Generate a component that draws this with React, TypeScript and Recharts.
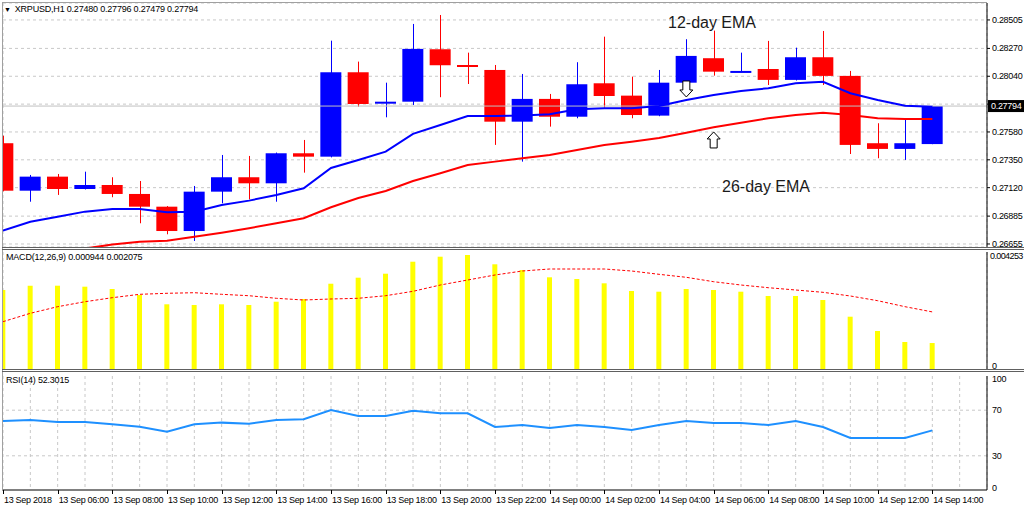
import {
  ComposedChart,
  Bar,
  Line,
  XAxis,
  YAxis,
  CartesianGrid,
  ReferenceLine,
  ReferenceDot,
} from 'recharts';

const FONT = "'Liberation Sans', Arial, sans-serif";

// hourly XRPUSD candles, 13 Sep 04:00 .. 14 Sep 14:00
const OPEN = [
  0.27487, 0.27095, 0.27211, 0.27109, 0.27142, 0.27068, 0.26963, 0.26762, 0.27087, 0.27206,
  0.27156, 0.27404, 0.27376, 0.28073, 0.27814, 0.2783, 0.28263, 0.28133, 0.28092, 0.27665,
  0.27853, 0.27706, 0.27982, 0.2788, 0.27715, 0.27987, 0.28189, 0.28076, 0.281, 0.2801,
  0.28197, 0.28043, 0.27487, 0.2744, 0.2748,
];
const HIGH = [
  0.27549, 0.27225, 0.27233, 0.27252, 0.27206, 0.27175, 0.26968, 0.27134, 0.2739, 0.27382,
  0.2741, 0.27514, 0.28334, 0.28161, 0.27987, 0.28472, 0.28546, 0.28235, 0.28133, 0.28059,
  0.27894, 0.28156, 0.28367, 0.28037, 0.28092, 0.28346, 0.28417, 0.28235, 0.28332, 0.28276,
  0.28414, 0.28084, 0.27652, 0.27685, 0.27796,
];
const LOW = [
  0.2709, 0.27004, 0.2706, 0.27105, 0.27041, 0.26826, 0.26735, 0.2668, 0.26991, 0.27024,
  0.27004, 0.27244, 0.2737, 0.27789, 0.27701, 0.27803, 0.27867, 0.27976, 0.27473, 0.27335,
  0.27624, 0.27693, 0.27781, 0.27693, 0.2771, 0.2798, 0.28045, 0.28074, 0.27968, 0.28005,
  0.27968, 0.27398, 0.27363, 0.27349, 0.27479,
];
const CLOSE = [
  0.27095, 0.27211, 0.27109, 0.27142, 0.27068, 0.26963, 0.26762, 0.27087, 0.27206, 0.27156,
  0.27404, 0.27376, 0.28073, 0.27811, 0.2783, 0.28266, 0.28131, 0.28125, 0.27665, 0.27853,
  0.27706, 0.27974, 0.27877, 0.2772, 0.27987, 0.28208, 0.28078, 0.28084, 0.2801, 0.28197,
  0.28043, 0.27473, 0.2744, 0.27487, 0.27794,
];
const EMA12 = [
  0.26765, 0.26839, 0.2688, 0.26922, 0.26944, 0.26944, 0.26917, 0.26922, 0.26977, 0.27013,
  0.2706, 0.27115, 0.27283, 0.27349, 0.27417, 0.27564, 0.27638, 0.27712, 0.27712, 0.27715,
  0.27726, 0.27768, 0.27776, 0.27776, 0.27795, 0.27844, 0.27886, 0.27919, 0.27941, 0.27982,
  0.27995, 0.279, 0.27844, 0.27797, 0.27789,
];
const EMA26 = [
  0.26545, 0.26570, 0.26594, 0.26618, 0.26650, 0.26674, 0.26682, 0.26715, 0.26748, 0.26785,
  0.26826, 0.26867, 0.26958, 0.27035, 0.27093, 0.27175, 0.27239, 0.27307, 0.27335, 0.27363,
  0.2739, 0.27431, 0.27473, 0.275, 0.2753, 0.27574, 0.27619, 0.27657, 0.27693, 0.2772,
  0.27739, 0.2772, 0.27693, 0.27687, 0.27687,
];
const MACD = [
  0.002872, 0.003028, 0.003028, 0.002992, 0.002908, 0.00269, 0.002352, 0.002326, 0.002352, 0.002326,
  0.002446, 0.002545, 0.0031, 0.003319, 0.003464, 0.0039, 0.004082, 0.004144, 0.003806, 0.003599,
  0.003333, 0.003272, 0.003115, 0.002835, 0.00281, 0.002908, 0.002872, 0.00281, 0.002654, 0.002654,
  0.002508, 0.001901, 0.001381, 0.000981, 0.000944,
];
const SIGNAL = [
  0.00172, 0.002025, 0.002265, 0.002446, 0.002592, 0.002715, 0.002752, 0.002773, 0.002715, 0.002664,
  0.00257, 0.002508, 0.002545, 0.00257, 0.002664, 0.002824, 0.003053, 0.003235, 0.003417, 0.003562,
  0.003635, 0.003635, 0.003635, 0.003562, 0.003442, 0.003333, 0.003173, 0.003053, 0.002955, 0.002872,
  0.002788, 0.002654, 0.002483, 0.002265, 0.002075,
];
const RSI = [
  60.5, 61.4, 59.6, 59.6, 57.6, 55.5, 51.2, 57.6, 59.1, 58.2,
  61.4, 62.0, 70.2, 64.9, 64.9, 69.6, 67.3, 67.3, 55.3, 57.0,
  54.4, 57.0, 55.3, 52.6, 57.0, 60.5, 58.8, 58.8, 57.0, 60.5,
  55.3, 45.6, 45.6, 45.6, 52.3,
];

// one label every second bar
const X_LABELS = [
  '13 Sep 2018', '13 Sep 06:00', '13 Sep 08:00', '13 Sep 10:00', '13 Sep 12:00', '13 Sep 14:00',
  '13 Sep 16:00', '13 Sep 18:00', '13 Sep 20:00', '13 Sep 22:00', '14 Sep 00:00', '14 Sep 02:00',
  '14 Sep 04:00', '14 Sep 06:00', '14 Sep 08:00', '14 Sep 10:00', '14 Sep 12:00', '14 Sep 14:00',
];
const PRICE_TICKS = [0.26655, 0.26885, 0.2712, 0.2735, 0.2758, 0.2781, 0.2804, 0.2827, 0.28505];
const MACD_TICKS = [0, 0.004253];
const RSI_TICKS = [0, 30, 70, 100];

const rows = OPEN.map((open, i) => ({
  i,
  open,
  high: HIGH[i],
  low: LOW[i],
  close: CLOSE[i],
  range: [LOW[i], HIGH[i]],
  ema12: EMA12[i],
  ema26: EMA26[i],
  macd: MACD[i],
  signal: SIGNAL[i],
  rsi: RSI[i],
}));

const GRID_X = Array.from({ length: 36 }, (_, i) => i);
const X_DOMAIN: [number, number] = [0, 36];
const LAST = rows.length - 1;

const tickText = { fontFamily: FONT, fontSize: 9, letterSpacing: -0.3 } as const;

function Candle(props: any) {
  const { x, y, width, height, payload } = props;
  if (x == null || !payload) return <g />;
  const top = Math.min(y, y + height);
  const h = Math.abs(height);
  const span = payload.high - payload.low || 1;
  const py = (v: number) => top + ((payload.high - v) / span) * h;
  const color = payload.close >= payload.open ? '#0000ff' : '#ff0000';
  const cx = Math.round(x + width / 2) + 0.5;
  const bTop = py(Math.max(payload.open, payload.close));
  const bBot = py(Math.min(payload.open, payload.close));
  return (
    <g>
      <line x1={cx} x2={cx} y1={top} y2={top + h} stroke={color} strokeWidth={1} />
      <rect x={x} y={bTop} width={width} height={Math.max(2, bBot - bTop)} fill={color} />
    </g>
  );
}

function Arrow(props: any) {
  const { cx, cy, dir } = props;
  if (cx == null) return <g />;
  const s = dir === 'down' ? 1 : -1;
  const d = `M${cx - 3.5} ${cy - 8 * s} H${cx + 3.5} V${cy + 1 * s} H${cx + 6.5} L${cx} ${cy + 8 * s} L${cx - 6.5} ${cy + 1 * s} H${cx - 3.5} Z`;
  return <path d={d} fill="#fff" stroke="#000" strokeWidth={1} />;
}

function PriceTick({ x, y, payload }: any) {
  if (payload.value === 0.2781) return <g />;
  return (
    <text x={x} y={y} dy={3} fill="#000" style={tickText}>
      {payload.value.toFixed(5)}
    </text>
  );
}

function MacdTick({ x, y, payload }: any) {
  const top = payload.value !== 0;
  return (
    <text
      x={x}
      y={y}
      dx={top ? -2 : 0}
      dy={top ? 7 : 0}
      fill="#000"
      style={top ? { ...tickText, letterSpacing: -0.6 } : tickText}
    >
      {top ? payload.value.toFixed(6) : '0'}
    </text>
  );
}

function RsiTick({ x, y, payload }: any) {
  const v = payload.value;
  const dy = v === 100 ? 6 : v === 0 ? 1 : 3;
  return (
    <text x={x} y={y} dy={dy} fill="#000" style={tickText}>
      {v}
    </text>
  );
}

function TimeTick({ x, y, payload }: any) {
  const i = payload.value;
  if (i % 2 !== 0 || i / 2 >= X_LABELS.length) return <g />;
  const lx = Math.round(x) + 0.5;
  return (
    <g>
      <line x1={lx} x2={lx} y1={y} y2={y + 4} stroke="#000" />
      <text x={x + 1} y={y + 13} fill="#000" style={tickText}>
        {X_LABELS[i / 2]}
      </text>
    </g>
  );
}

function PriceBox({ viewBox }: any) {
  if (!viewBox) return <g />;
  const bx = viewBox.x + viewBox.width + 1;
  return (
    <g>
      <rect x={bx} y={viewBox.y - 6} width={36} height={12} fill="#000" />
      <text x={bx + 3} y={viewBox.y + 3} fill="#fff" style={tickText}>
        {CLOSE[LAST].toFixed(5)}
      </text>
    </g>
  );
}

const gridProps = { stroke: '#c8c8c8', strokeDasharray: '3 3' };

function HiddenX() {
  return (
    <XAxis
      dataKey="i"
      type="number"
      domain={X_DOMAIN}
      ticks={GRID_X}
      interval={0}
      allowDataOverflow
      height={0}
      tick={false}
      tickLine={false}
      axisLine={false}
    />
  );
}

const hline = (top: number, color = '#606060') => (
  <div style={{ position: 'absolute', left: 2, top, width: 1022, height: 1, background: color }} />
);

export default function App() {
  return (
    <div
      style={{
        position: 'fixed',
        left: 0,
        top: 0,
        width: 1024,
        height: 512,
        background: '#fff',
        overflow: 'hidden',
        fontFamily: FONT,
      }}
    >
      {/* price panel */}
      <div style={{ position: 'absolute', left: 0, top: 0 }}>
        <ComposedChart width={1024} height={250} data={rows} margin={{ top: 3, right: 0, bottom: 3, left: 3 }}>
          <CartesianGrid {...gridProps} />
          {HiddenX()}
          <YAxis
            orientation="right"
            width={37}
            domain={[0.2663, 0.28645]}
            allowDataOverflow
            ticks={PRICE_TICKS}
            interval={0}
            tickSize={3}
            tickMargin={2}
            tickLine={{ stroke: '#000' }}
            axisLine={{ stroke: '#000' }}
            tick={<PriceTick />}
          />
          <ReferenceLine y={CLOSE[LAST]} stroke="#c0c0c0" label={<PriceBox />} />
          <Line type="linear" dataKey="ema26" stroke="#ff0000" strokeWidth={2} dot={false} isAnimationActive={false} />
          <Line type="linear" dataKey="ema12" stroke="#0000ff" strokeWidth={2} dot={false} isAnimationActive={false} />
          <Bar dataKey="range" barSize={21} shape={<Candle />} isAnimationActive={false} />
          <ReferenceDot x={25} y={0.27935} r={0} shape={(p: any) => <Arrow {...p} dir="down" />} />
          <ReferenceDot x={26} y={0.27514} r={0} shape={(p: any) => <Arrow {...p} dir="up" />} />
        </ComposedChart>
      </div>

      {/* MACD panel */}
      <div style={{ position: 'absolute', left: 0, top: 250 }}>
        <ComposedChart width={1024} height={120} data={rows} margin={{ top: 2, right: 0, bottom: 1, left: 3 }}>
          <CartesianGrid {...gridProps} horizontal={false} />
          {HiddenX()}
          <YAxis
            orientation="right"
            width={37}
            domain={[0, 0.004253]}
            ticks={MACD_TICKS}
            interval={0}
            tickSize={3}
            tickMargin={2}
            tickLine={false}
            axisLine={{ stroke: '#000' }}
            tick={<MacdTick />}
          />
          <Bar dataKey="macd" barSize={5} fill="#ffff00" isAnimationActive={false} />
          <Line
            type="linear"
            dataKey="signal"
            stroke="#ff0000"
            strokeWidth={1}
            strokeDasharray="3 2"
            dot={false}
            isAnimationActive={false}
          />
        </ComposedChart>
      </div>

      {/* RSI panel */}
      <div style={{ position: 'absolute', left: 0, top: 372 }}>
        <ComposedChart width={1024} height={140} data={rows} margin={{ top: 4, right: 0, bottom: 0, left: 3 }}>
          <CartesianGrid {...gridProps} horizontal={false} />
          <XAxis
            dataKey="i"
            type="number"
            domain={X_DOMAIN}
            ticks={GRID_X}
            interval={0}
            allowDataOverflow
            height={22}
            tickSize={0}
            tickMargin={0}
            tickLine={false}
            axisLine={{ stroke: '#000' }}
            tick={<TimeTick />}
          />
          <YAxis
            orientation="right"
            width={37}
            domain={[0, 100]}
            ticks={RSI_TICKS}
            interval={0}
            tickSize={3}
            tickMargin={2}
            tickLine={false}
            axisLine={{ stroke: '#000' }}
            tick={<RsiTick />}
          />
          <ReferenceLine y={70} {...gridProps} />
          <ReferenceLine y={30} {...gridProps} />
          <Line type="linear" dataKey="rsi" stroke="#1e90ff" strokeWidth={2} dot={false} isAnimationActive={false} />
        </ComposedChart>
      </div>

      {/* frame and separators */}
      <div style={{ position: 'absolute', left: 2, top: 2, width: 985, height: 1, background: '#a0a0a0' }} />
      <div style={{ position: 'absolute', left: 2, top: 2, width: 1, height: 489, background: '#a0a0a0' }} />
      {hline(247)}
      {hline(249)}
      {hline(369)}
      {hline(371)}

      {/* window captions */}
      <div style={{ position: 'absolute', left: 4, top: 4, fontSize: 9, lineHeight: '11px', color: '#000', letterSpacing: -0.2 }}>
        <span style={{ fontSize: 7, marginRight: 4 }}>▼</span>
        {`XRPUSD,H1  ${OPEN[LAST].toFixed(5)} ${HIGH[LAST].toFixed(5)} ${LOW[LAST].toFixed(5)} ${CLOSE[LAST].toFixed(5)}`}
      </div>
      <div style={{ position: 'absolute', left: 6, top: 252, fontSize: 9, lineHeight: '11px', color: '#000', letterSpacing: -0.2 }}>
        {`MACD(12,26,9) ${MACD[LAST].toFixed(6)} ${SIGNAL[LAST].toFixed(6)}`}
      </div>
      <div style={{ position: 'absolute', left: 6, top: 375, fontSize: 9, lineHeight: '11px', color: '#000', letterSpacing: -0.2 }}>
        RSI(14) 52.3015
      </div>

      {/* annotations */}
      <div style={{ position: 'absolute', left: 668, top: 14, fontSize: 16, lineHeight: '18px', color: '#1a1a1a' }}>
        12-day EMA
      </div>
      <div style={{ position: 'absolute', left: 722, top: 178, fontSize: 16, lineHeight: '18px', color: '#1a1a1a' }}>
        26-day EMA
      </div>
    </div>
  );
}
